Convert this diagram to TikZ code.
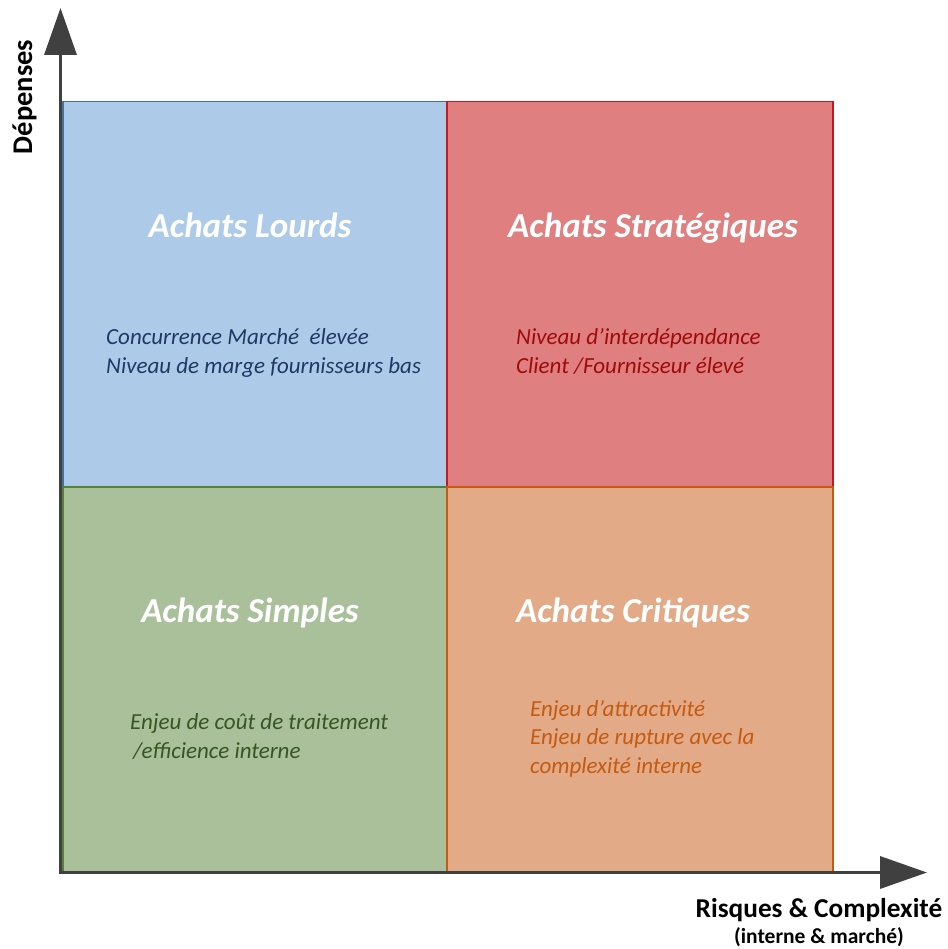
\documentclass[tikz,border=0pt]{standalone}
\usepackage{fontspec}
\setmainfont{Carlito}
\usetikzlibrary{arrows.meta}
\definecolor{bfill}{HTML}{ADCBE9}
\definecolor{bline}{HTML}{41719C}
\definecolor{btext}{HTML}{1F3864}
\definecolor{rfill}{HTML}{E07F7F}
\definecolor{rline}{HTML}{C9171E}
\definecolor{rtext}{HTML}{9E0B0B}
\definecolor{gfill}{HTML}{A9C09A}
\definecolor{gline}{HTML}{538135}
\definecolor{gtext}{HTML}{375623}
\definecolor{ofill}{HTML}{E2AA87}
\definecolor{oline}{HTML}{C55A11}
\definecolor{otext}{HTML}{C55A11}
\definecolor{axiscol}{HTML}{404040}
\tikzset{
  quad/.style={draw, line width=1.5pt, inner sep=0pt, minimum width=384pt, minimum height=385pt, anchor=north west},
  qtitle/.style={text=white, font=\fontsize{35}{40}\selectfont\bfseries\itshape, anchor=base, inner sep=0pt},
  qbody/.style={font=\fontsize{23}{28.5}\selectfont\itshape, align=left, anchor=base west, inner sep=0pt},
  axis/.style={draw=axiscol, line width=3.5pt, -{Triangle[length=47pt,width=32pt]}, color=axiscol},
  axlabel/.style={font=\bfseries, text=black, inner sep=0pt}
}
\begin{document}
\begin{tikzpicture}[x=1pt,y=-1pt]
\useasboundingbox (0,0) rectangle (947,949);
\node[quad, fill=bfill, draw=bline] (lourds) at (62,101) {};
\node[quad, fill=rfill, draw=rline, minimum width=386pt] (strat) at (446,101) {};
\node[quad, fill=gfill, draw=gline, minimum height=386pt] (simples) at (62,486) {};
\node[quad, fill=ofill, draw=oline, minimum width=386pt, minimum height=386pt] (crit) at (446,486) {};

\node[qtitle] (t1) at (250,238) {Achats Lourds};
\node[qtitle] (t2) at (653,238) {Achats Stratégiques};
\node[qtitle] (t3) at (250,622) {Achats Simples};
\node[qtitle] (t4) at (633,622) {Achats Critiques};

\node[qbody, text=btext] (b1) at (106,373) {Concurrence Marché \ élevée\\Niveau de marge fournisseurs bas};
\node[qbody, text=rtext] (b2) at (516,373) {Niveau d’interdépendance\\Client /Fournisseur élevé};
\node[qbody, text=gtext] (b3) at (130,758) {Enjeu de coût de traitement\\\hspace*{3pt}/efficience interne};
\node[qbody, text=otext] (b4) at (530,773) {Enjeu d’attractivité\\Enjeu de rupture avec la\\complexité interne};

\coordinate (O) at (60.5,872.5);
\coordinate (ytip) at (60.5,8);
\coordinate (xtip) at (927,872.5);
\draw[axis] (60.5,874.25) -- (ytip);
\draw[axis] (58.75,872.5) -- (xtip);

\node[axlabel, font=\fontsize{28.5}{32}\selectfont\bfseries, rotate=90, anchor=base] (ylab) at (32,97) {Dépenses};
\node[axlabel, font=\fontsize{27.3}{30}\selectfont\bfseries, anchor=base] (xlab) at (819,917) {Risques \& Complexité};
\node[axlabel, font=\fontsize{21.5}{24}\selectfont\bfseries, anchor=base] (xlab2) at (819,943) {(interne \& marché)};
\end{tikzpicture}
\end{document}
